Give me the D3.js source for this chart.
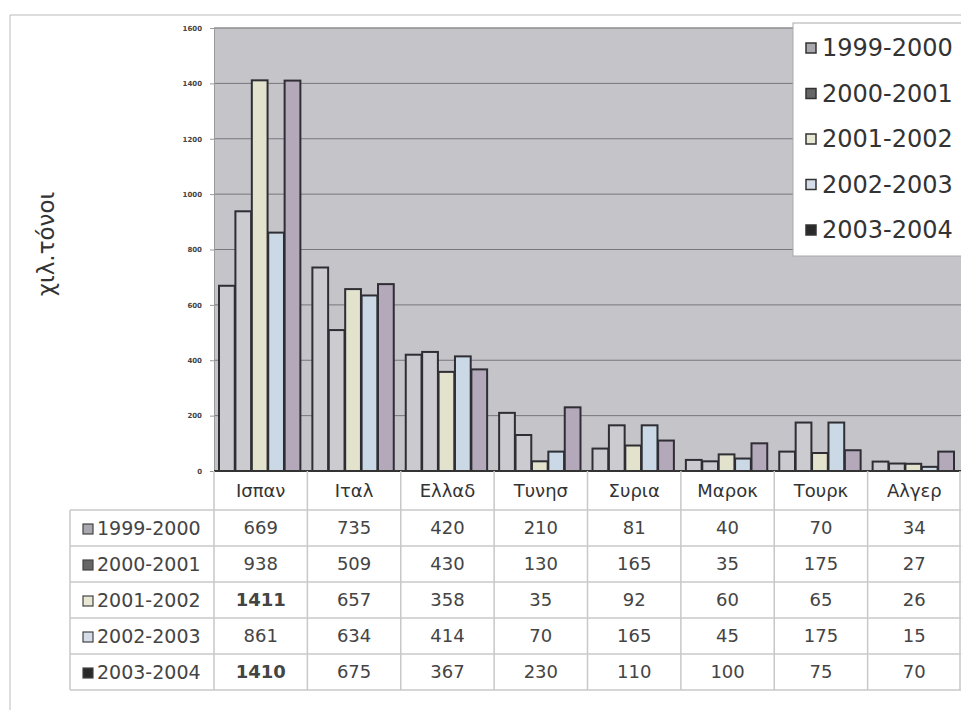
<!DOCTYPE html>
<meta charset="utf-8">
<script src="https://d3js.org/d3.v7.min.js"></script>
<style>
  body { margin: 0; background: #fff; }
  text { font-family: "DejaVu Sans", Arial, sans-serif; }
</style>
<svg id="chart" width="961" height="710"></svg>
<script>

// data
var countries = ["Ισπαν", "Ιταλ", "Ελλαδ", "Τυνησ", "Συρια", "Μαροκ", "Τουρκ", "Αλγερ"];
var seasons = ["1999-2000", "2000-2001", "2001-2002", "2002-2003", "2003-2004"];
var v1999 = [669, 735, 420, 210, 81, 40, 70, 34];
var v2000 = [938, 509, 430, 130, 165, 35, 175, 27];
var v2001 = [1411, 657, 358, 35, 92, 60, 65, 26];
var v2002 = [861, 634, 414, 70, 165, 45, 175, 15];
var v2003 = [1410, 675, 367, 230, 110, 100, 75, 70];
var yTicks = [0, 200, 400, 600, 800, 1000, 1200, 1400, 1600];

var series = [v1999, v2000, v2001, v2002, v2003];

var barFill = ["#cacacf", "#cbcbd0", "#e3e3cd", "#cbd9e6", "#b4a8bb"];
var markFill = ["#a8a8ae", "#666", "#e8e8d4", "#d4dde8", "#2a2a2a"];

var plot = {left: 214, top: 28, right: 961, bottom: 471};

var svg = d3.select("#chart");

// outer chart frame
svg.append("line").attr("x1", 10).attr("x2", 961).attr("y1", 15).attr("y2", 15)
  .attr("stroke", "#bbb");
svg.append("line").attr("x1", 10).attr("x2", 10).attr("y1", 15).attr("y2", 710)
  .attr("stroke", "#bbb");

var x = d3.scaleBand().domain(countries).range([plot.left, plot.right]);
var xSub = d3.scaleBand().domain(d3.range(seasons.length))
  .range([5, x.bandwidth() - 7]).paddingInner(0.04);
var y = d3.scaleLinear().domain([0, 1600]).range([plot.bottom, plot.top]);

// plot background
svg.append("rect")
  .attr("x", plot.left).attr("y", plot.top)
  .attr("width", plot.right - plot.left).attr("height", plot.bottom - plot.top)
  .attr("fill", "#c4c4c9");

// grid lines
svg.append("g").selectAll("line")
  .data(yTicks.slice(1))
  .join("line")
  .attr("x1", plot.left).attr("x2", plot.right)
  .attr("y1", function(d) { return y(d); }).attr("y2", function(d) { return y(d); })
  .attr("stroke", "#77777c").attr("stroke-width", 1);

// y axis
var yAxis = svg.append("g")
  .attr("transform", "translate(" + plot.left + ",0)")
  .call(d3.axisLeft(y).tickValues(yTicks).tickSize(4).tickFormat(d3.format("d")));
yAxis.select(".domain").attr("stroke", "#999");
yAxis.selectAll(".tick line").attr("stroke", "#999");
yAxis.selectAll("text").attr("font-size", 7).attr("font-weight", "bold")
  .attr("fill", "#444").attr("dx", -5);

// bars
var groups = svg.append("g").selectAll("g")
  .data(countries)
  .join("g")
  .attr("transform", function(d) { return "translate(" + x(d) + ",0)"; });

groups.selectAll("rect")
  .data(function(d, i) { return series.map(function(s, k) { return {k: k, value: s[i]}; }); })
  .join("rect")
  .attr("x", function(d) { return xSub(d.k); })
  .attr("y", function(d) { return y(d.value); })
  .attr("width", xSub.bandwidth())
  .attr("height", function(d) { return plot.bottom - y(d.value); })
  .attr("fill", function(d) { return barFill[d.k]; })
  .attr("stroke", "#2e2e34")
  .attr("stroke-width", 2);

// plot border
svg.append("line").attr("x1", plot.left).attr("x2", plot.right)
  .attr("y1", plot.top).attr("y2", plot.top).attr("stroke", "#999");
svg.append("line").attr("x1", plot.left).attr("x2", plot.right)
  .attr("y1", plot.bottom).attr("y2", plot.bottom).attr("stroke", "#333").attr("stroke-width", 2);

// y title
svg.append("text")
  .attr("transform", "translate(54,244) rotate(-90)")
  .attr("text-anchor", "middle")
  .attr("font-size", 23)
  .attr("fill", "#333")
  .text("χιλ.τόνοι");

// legend
var legend = svg.append("g");
legend.append("rect")
  .attr("x", 793).attr("y", 23).attr("width", 175).attr("height", 233)
  .attr("fill", "#fff").attr("stroke", "#aaa");
var leg = legend.selectAll("g")
  .data(seasons)
  .join("g")
  .attr("transform", function(d, i) { return "translate(806," + (47 + i * 45.5) + ")"; });
leg.append("rect")
  .attr("x", 0).attr("y", -4).attr("width", 10).attr("height", 10)
  .attr("fill", function(d, i) { return markFill[i]; })
  .attr("stroke", "#333").attr("stroke-width", 1.5);
leg.append("text")
  .attr("x", 16).attr("y", 9)
  .attr("font-size", 24)
  .attr("fill", "#333")
  .text(function(d) { return d; });

// data table
var table = {left: 70, headTop: plot.bottom, headBottom: 507, rowH: 36};
var rowTop = function(i) { return table.headBottom + 3 + i * table.rowH; };
var tableBottom = rowTop(seasons.length);
var tg = svg.append("g");

// horizontal lines
tg.selectAll("line.h")
  .data(d3.range(seasons.length + 1))
  .join("line")
  .attr("class", "h")
  .attr("x1", table.left).attr("x2", plot.right)
  .attr("y1", function(i) { return rowTop(i); }).attr("y2", function(i) { return rowTop(i); })
  .attr("stroke", "#c8c8c8").attr("stroke-width", 1.5);

// vertical lines
tg.selectAll("line.v")
  .data(countries.concat(["end"]))
  .join("line")
  .attr("class", "v")
  .attr("x1", function(d) { return d === "end" ? plot.right - 1 : x(d); })
  .attr("x2", function(d) { return d === "end" ? plot.right - 1 : x(d); })
  .attr("y1", table.headTop).attr("y2", tableBottom)
  .attr("stroke", "#c8c8c8").attr("stroke-width", 1.5);
tg.append("line")
  .attr("x1", table.left).attr("x2", table.left)
  .attr("y1", rowTop(0)).attr("y2", tableBottom)
  .attr("stroke", "#c8c8c8").attr("stroke-width", 1.5);

// header
tg.selectAll("text.head")
  .data(countries)
  .join("text")
  .attr("class", "head")
  .attr("x", function(d) { return x(d) + x.bandwidth() / 2; })
  .attr("y", 497)
  .attr("text-anchor", "middle")
  .attr("font-size", 18)
  .attr("fill", "#333")
  .text(function(d) { return d; });

// row labels
var rows = tg.selectAll("g.row")
  .data(seasons)
  .join("g")
  .attr("class", "row")
  .attr("transform", function(d, i) { return "translate(0," + (rowTop(i) + table.rowH / 2) + ")"; });
rows.append("rect")
  .attr("x", 83).attr("y", -4).attr("width", 10).attr("height", 10)
  .attr("fill", function(d, i) { return markFill[i]; })
  .attr("stroke", "#444").attr("stroke-width", 1.2);
rows.append("text")
  .attr("x", 97).attr("y", 7)
  .attr("font-size", 19)
  .attr("fill", "#444")
  .text(function(d) { return d; });

// values
rows.each(function(s, k) {
  d3.select(this).selectAll("text.val")
    .data(series[k])
    .join("text")
    .attr("class", "val")
    .attr("x", function(d, i) { return x(countries[i]) + x.bandwidth() / 2; })
    .attr("y", 6)
    .attr("text-anchor", "middle")
    .attr("font-size", 18)
    .attr("font-weight", function(d) { return d > 1000 ? "bold" : "normal"; })
    .attr("fill", "#444")
    .text(function(d) { return d; });
});

</script>
